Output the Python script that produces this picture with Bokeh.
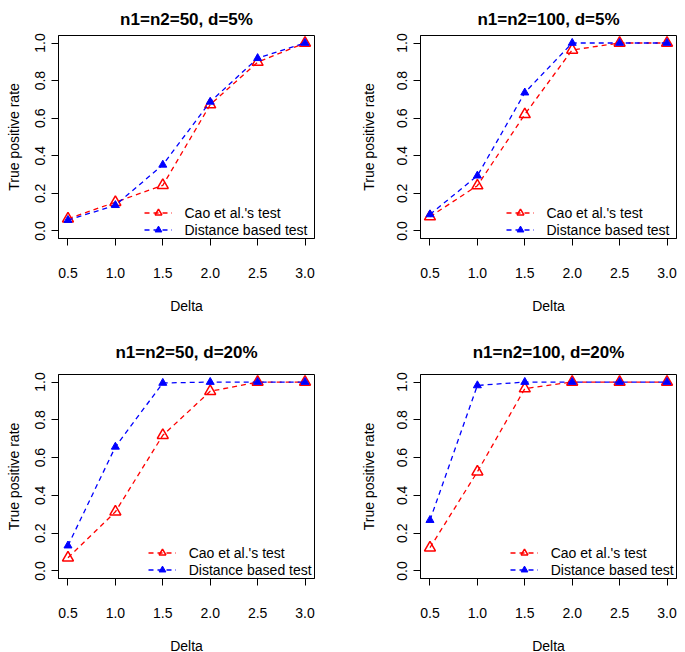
from bokeh.plotting import figure
from bokeh.models import (FixedTicker, NumeralTickFormatter, Legend, LegendItem,
                          Range1d)
from bokeh.layouts import gridplot
from bokeh.embed import file_html
from bokeh.resources import INLINE

# ---------------- data ----------------
delta = [0.5, 1.0, 1.5, 2.0, 2.5, 3.0]
y_ticks = [0.0, 0.2, 0.4, 0.6, 0.8, 1.0]

titles = ["n1=n2=50, d=5%", "n1=n2=100, d=5%",
          "n1=n2=50, d=20%", "n1=n2=100, d=20%"]

cao_50_5 = [0.065, 0.153, 0.243, 0.672, 0.898, 1.0]
dist_50_5 = [0.058, 0.137, 0.352, 0.687, 0.919, 1.0]

cao_100_5 = [0.076, 0.241, 0.620, 0.963, 1.0, 1.0]
dist_100_5 = [0.088, 0.294, 0.736, 1.0, 1.0, 1.0]

cao_50_20 = [0.070, 0.313, 0.718, 0.951, 1.0, 1.0]
dist_50_20 = [0.134, 0.657, 0.995, 1.0, 1.0, 1.0]

cao_100_20 = [0.123, 0.525, 0.965, 1.0, 1.0, 1.0]
dist_100_20 = [0.269, 0.982, 1.0, 1.0, 1.0, 1.0]

series_names = ["Cao et al.'s test", "Distance based test"]
x_label = "Delta"
y_label = "True positive rate"

FONT = "Liberation Sans"
RED = "#FF0000"
BLUE = "#0000FF"


def make_panel(title, cao, dist, col, row):
    if col == 0:
        bl, br, y_als = 58, 36, 11
    else:
        bl, br, y_als = 70, 1, 18
    if row == 0:
        bt, fh, bb, t_stand, leg_x = 35, 203, 89, 14, 85.5
    else:
        bt, fh, bb, t_stand, leg_x = 47, 204, 66, 26, 89.7

    p = figure(frame_width=256, frame_height=fh,
               min_border_left=bl, min_border_right=br,
               min_border_top=bt, min_border_bottom=bb,
               x_range=Range1d(0.4, 3.1), y_range=Range1d(-0.04, 1.04),
               output_backend="svg", toolbar_location=None, tools="")
    p.background_fill_color = "white"
    p.border_fill_color = "white"
    p.outline_line_color = "black"
    p.outline_line_width = 1
    p.outline_line_alpha = 1
    p.xgrid.visible = False
    p.ygrid.visible = False

    p.title.text = title
    p.title.align = "center"
    p.title.text_font = FONT
    p.title.text_font_size = "17px"
    p.title.text_font_style = "bold"
    p.title.text_color = "black"
    p.title.standoff = t_stand

    for ax in (p.xaxis[0], p.yaxis[0]):
        ax.axis_line_color = "black"
        ax.major_tick_line_color = "black"
        ax.minor_tick_line_color = None
        ax.major_tick_out = 7
        ax.major_tick_in = 0
        ax.major_label_text_font = FONT
        ax.major_label_text_font_size = "14px"
        ax.major_label_text_color = "black"
        ax.axis_label_text_font = FONT
        ax.axis_label_text_font_size = "14px"
        ax.axis_label_text_font_style = "normal"
        ax.axis_label_text_color = "black"
        ax.formatter = NumeralTickFormatter(format="0.0")

    p.xaxis.ticker = FixedTicker(ticks=delta)
    p.yaxis.ticker = FixedTicker(ticks=y_ticks)
    p.xaxis.axis_label = x_label
    p.yaxis.axis_label = y_label
    p.xaxis.major_label_standoff = 22
    p.xaxis.axis_label_standoff = 17
    p.yaxis.major_label_standoff = 6
    p.yaxis.axis_label_standoff = y_als
    p.yaxis.major_label_orientation = "vertical"

    l1 = p.line(delta, cao, line_color=RED, line_width=1.3, line_dash="5 4")
    s1 = p.scatter(delta, cao, marker="triangle", size=11, fill_color=None,
                   line_color=RED, line_width=1.5)
    l2 = p.line(delta, dist, line_color=BLUE, line_width=1.3, line_dash="5 4")
    s2 = p.scatter(delta, dist, marker="triangle", size=8, fill_color=BLUE,
                   line_color=BLUE, line_width=1)

    legend = Legend(items=[LegendItem(label=series_names[0], renderers=[l1, s1]),
                           LegendItem(label=series_names[1], renderers=[l2, s2])],
                    location=(leg_x, 0), orientation="vertical")
    legend.glyph_width = 28
    legend.glyph_height = 17
    legend.label_height = 17
    legend.label_standoff = 13
    legend.padding = 0
    legend.margin = 0
    legend.spacing = 0
    legend.border_line_alpha = 0
    legend.background_fill_alpha = 0
    legend.label_text_font = FONT
    legend.label_text_font_size = "14px"
    legend.label_text_color = "black"
    legend.label_text_baseline = "middle"
    p.add_layout(legend, "center")
    return p


p1 = make_panel(titles[0], cao_50_5, dist_50_5, 0, 0)
p2 = make_panel(titles[1], cao_100_5, dist_100_5, 1, 0)
p3 = make_panel(titles[2], cao_50_20, dist_50_20, 0, 1)
p4 = make_panel(titles[3], cao_100_20, dist_100_20, 1, 1)

grid = gridplot([[p1, p2], [p3, p4]], toolbar_location=None)

open("out.html", "w").write(file_html(grid, INLINE))
